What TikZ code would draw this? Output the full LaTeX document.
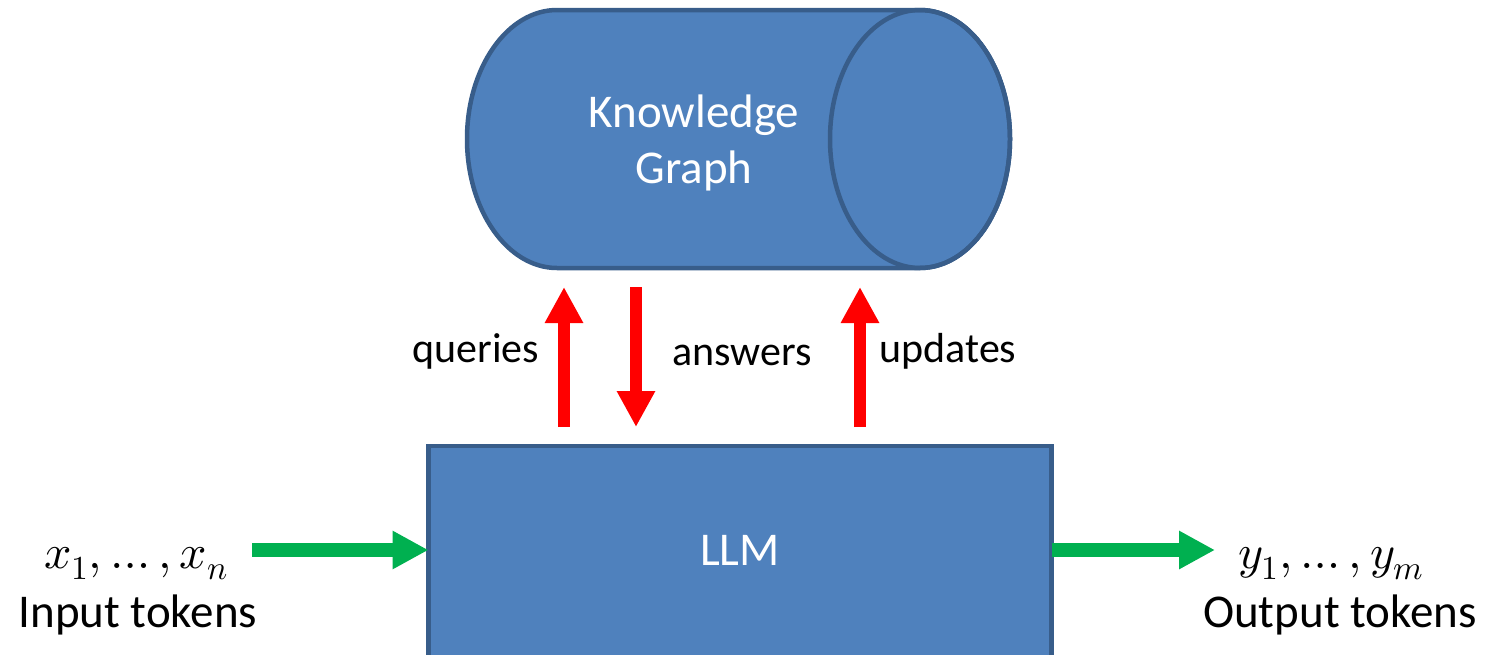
\documentclass[tikz,border=0pt]{standalone}
\usepackage{fontspec}
\usepackage{unicode-math}
\setmainfont{Carlito}
\setmathfont{Latin Modern Math}
\usetikzlibrary{arrows.meta}

\definecolor{boxfill}{HTML}{4F81BD}
\definecolor{boxline}{HTML}{385D8A}
\definecolor{flowred}{HTML}{FF0000}
\definecolor{flowgreen}{HTML}{00B050}

\tikzset{
  blockbox/.style={draw=boxline, fill=boxfill, line width=4.5pt, outer sep=0pt, inner sep=0pt},
  ghostbox/.style={inner sep=0pt, outer sep=0pt},
  whitetext/.style={text=white, font=\fontsize{47}{56}\selectfont, inner sep=0pt, anchor=base},
  tokentext/.style={font=\fontsize{47}{56}\selectfont, inner sep=0pt, anchor=base},
  mathtext/.style={font=\fontsize{48}{56}\selectfont, inner sep=0pt, anchor=base},
  flowtext/.style={font=\fontsize{42}{50}\selectfont, inner sep=0pt, anchor=base},
  redflow/.style={draw=flowred, line width=12pt, -{Triangle[width=36pt,length=36pt]}, color=flowred},
  greenflow/.style={draw=flowgreen, line width=14pt, -{Triangle[width=36pt,length=36pt]}, color=flowgreen}
}

\begin{document}
\begin{tikzpicture}[x=1pt, y=-1pt]
  \useasboundingbox (0,0) rectangle (1488,654);

  % knowledge graph store, drawn as a horizontal can
  \node[ghostbox, minimum width=543pt, minimum height=258pt] (kg) at (738.5,139) {};
  \draw[draw=boxline, fill=boxfill, line width=4.5pt]
    (920,10) -- (557,10)
    arc[start angle=90, end angle=270, x radius=90pt, y radius=129pt]
    -- (920,268)
    arc[start angle=-90, end angle=90, x radius=90pt, y radius=129pt]
    -- cycle;
  \draw[draw=boxline, line width=4.5pt] (920,139) ellipse [x radius=90pt, y radius=129pt];
  \node[whitetext] (kgname1) at (694,127) {Knowledge};
  \node[whitetext] (kgname2) at (694,183) {Graph};

  % language model block (runs off the bottom edge)
  \node[blockbox, minimum width=623pt, minimum height=254pt] (llm) at (740,573) {};
  \node[whitetext] (llmname) at (740,565) {LLM};

  % traffic between the model and the graph
  \draw[redflow] ([xshift=-176pt, yshift=19pt]llm.north) -- ([xshift=-174.5pt, yshift=-19pt]kg.south);
  \draw[redflow] ([xshift=-102.5pt, yshift=-19pt]kg.south) -- ([xshift=-104pt, yshift=19pt]llm.north);
  \draw[redflow] ([xshift=120pt, yshift=19pt]llm.north) -- ([xshift=121.5pt, yshift=-19pt]kg.south);

  \node[flowtext] (q) at (476,362) {queries};
  \node[flowtext] (a) at (742,365) {answers};
  \node[flowtext] (u) at (948,362) {updates};

  % token streams in and out
  \node[mathtext] (xs) at (136,568) {$x_1, \ldots, x_n$};
  \node[tokentext] (intok) at (138,627) {Input tokens};
  \node[mathtext] (ys) at (1331,568) {$y_1, \ldots, y_m$};
  \node[tokentext] (outtok) at (1340,627) {Output tokens};

  \coordinate (instart) at (252,550);
  \coordinate (outend) at (1215,550);
  \draw[greenflow] (instart) -- ([yshift=23pt]llm.west);
  \draw[greenflow] ([yshift=23pt]llm.east) -- (outend);
\end{tikzpicture}
\end{document}
